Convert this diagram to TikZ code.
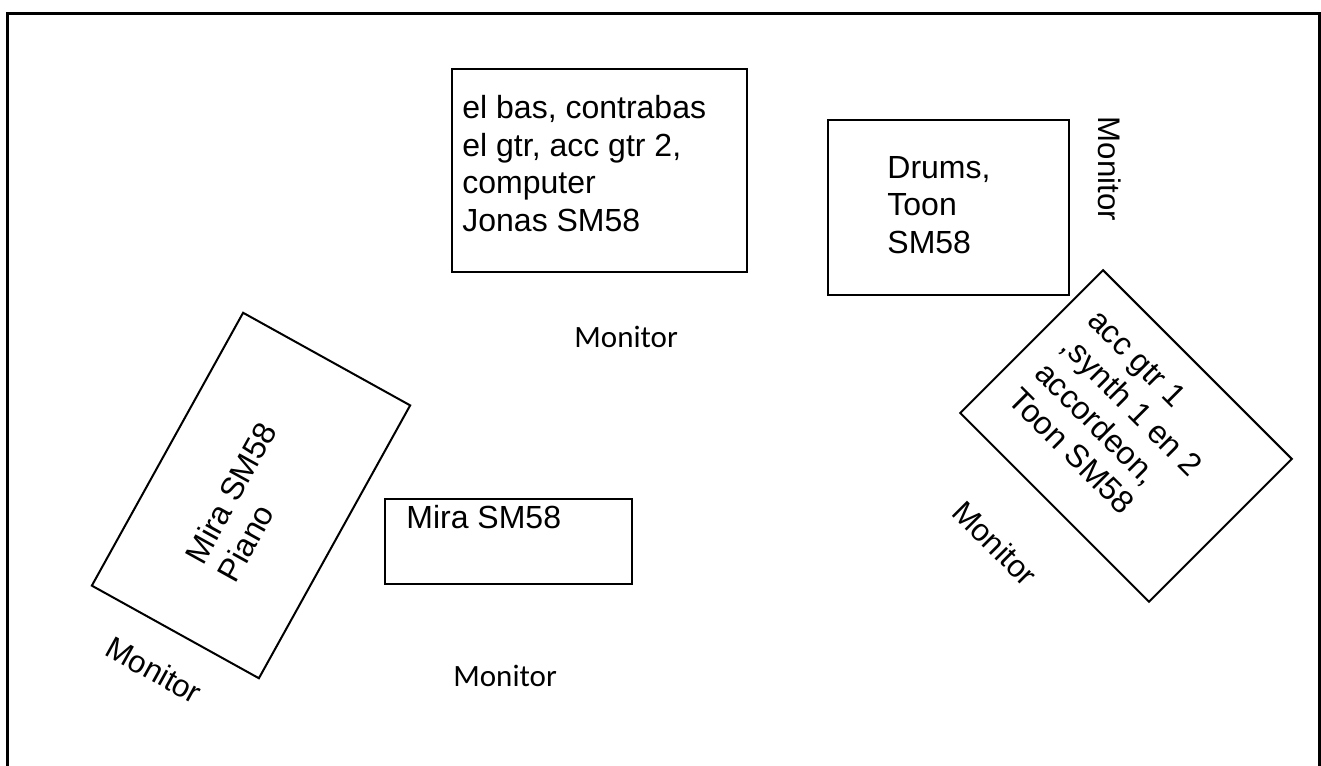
\documentclass[tikz,border=0pt]{standalone}
\usepackage{fontspec}
\setmainfont{Liberation Sans}
\newfontfamily\calibrifont{Carlito}
\begin{document}
\begin{tikzpicture}[x=0.5pt,y=-0.5pt,
  box/.style={draw, line width=1pt, inner sep=0pt, outer sep=0pt},
  lbl/.style={inner sep=0pt, font=\fontsize{16}{18.75}\selectfont, align=left},
  monA/.style={inner sep=0pt, font=\fontsize{15.6}{18}\selectfont},
  monC/.style={inner sep=0pt, font=\calibrifont\fontsize{15.5}{18}\selectfont}]
\useasboundingbox (0,0) rectangle (1321,765);
% outer frame (open at the bottom)
\draw[line width=1.5pt] (7,775) -- (7,13.5) -- (1319,13.5) -- (1319,775);
% boxes
\node[box, minimum width=147.5pt, minimum height=101.5pt] (bassbox) at (599.5,170.5) {};
\node[box, minimum width=120.5pt, minimum height=87.5pt] (drumbox) at (948.5,207.5) {};
\node[box, minimum width=123.5pt, minimum height=42.5pt] (mirabox) at (508.5,541.5) {};
\node[box, minimum width=156pt, minimum height=95.5pt, rotate=61] (pianobox) at (251,495.5) {};
\node[box, minimum width=133.5pt, minimum height=101pt, rotate=-45] (accbox) at (1126,436) {};
% texts
\node[lbl, anchor=north west] (basstext) at (462,95) {el bas, contrabas\\el gtr, acc gtr 2,\\computer\\Jonas SM58};
\node[lbl, anchor=north west] (drumtext) at (887,156) {Drums,\\Toon\\SM58};
\node[lbl, anchor=north west] (miratext) at (406,505) {Mira SM58};
\node[lbl, rotate=61] (pianotext) at (247,502) {Mira SM58\\Piano};
\node[lbl, rotate=-45] (acctext) at (1119,419) {acc gtr 1\\,synth 1 en 2\\accordeon,\\Toon SM58};
% monitors
\node[monC, anchor=base west] (mon1) at (574,347) {Monitor};
\node[monC, anchor=base west] (mon2) at (453,686) {Monitor};
\node[monA, rotate=-90] (mon3) at (1110,169) {Monitor};
\node[monA, rotate=-29] (mon4) at (154,670) {Monitor};
\node[monA, rotate=-45] (mon5) at (995,543) {Monitor};
\end{tikzpicture}
\end{document}
